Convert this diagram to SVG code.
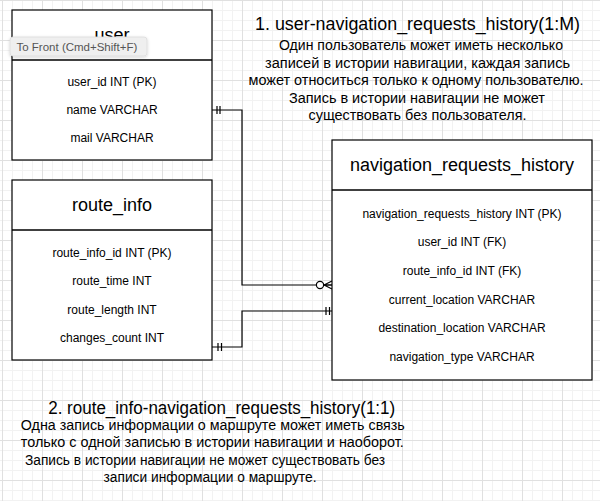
<svg xmlns="http://www.w3.org/2000/svg" width="600" height="501" viewBox="0 0 600 501">
<defs>
<pattern id="minor" patternUnits="userSpaceOnUse" x="2" y="0" width="10" height="10">
<path d="M0,0.5 H10 M0.5,0 V10" stroke="#f2f2f2" stroke-width="1" fill="none"/>
</pattern>
<pattern id="major" patternUnits="userSpaceOnUse" x="2" y="0" width="40" height="40">
<path d="M0,0.5 H40 M0.5,0 V40" stroke="#e0e0e0" stroke-width="1" fill="none"/>
</pattern>
<filter id="sh" x="-10%" y="-30%" width="120%" height="180%">
<feDropShadow dx="0" dy="1" stdDeviation="1.5" flood-color="#000" flood-opacity="0.18"/>
</filter>
</defs>
<style>
text{font-family:"Liberation Sans",Arial,Helvetica,sans-serif;fill:#000}
.ent{fill:#fff;stroke:#000;stroke-width:1.2}
.div{stroke:#000;stroke-width:1.5}
.title{font-size:18px;text-anchor:middle}
.row{font-size:12px;text-anchor:middle}
.conn{fill:none;stroke:#000;stroke-width:1.2}
.h{font-size:17.5px;text-anchor:middle}
.b{font-size:14px;text-anchor:middle}
</style>
<rect width="600" height="501" fill="#fff"/>
<rect width="600" height="501" fill="url(#minor)"/>
<rect width="600" height="501" fill="url(#major)"/>

<g id="connectors">
<path class="conn" d="M212,110 H242 V285 H332"/>
<path class="conn" d="M217,106 V114 M220,106 V114"/>
<circle cx="320" cy="285" r="3.6" fill="#fff" stroke="#000" stroke-width="1.2"/>
<path class="conn" d="M324,285 L332,281 M324,285 L332,289 M324,285 H332"/>
<path class="conn" d="M212,347 H242 V311 H332"/>
<path class="conn" d="M218,343 V351 M221.5,343 V351"/>
<path class="conn" d="M326,307 V315 M329.5,307 V315"/>
</g>

<g id="user">
<rect class="ent" x="12" y="10" width="200" height="150"/>
<line class="div" x1="12" y1="60" x2="212" y2="60"/>
<text class="title" x="112" y="41">user</text>
<text class="row" x="112" y="86">user_id INT (PK)</text>
<text class="row" x="112" y="114">name VARCHAR</text>
<text class="row" x="112" y="142">mail VARCHAR</text>
</g>

<g id="route_info">
<rect class="ent" x="12" y="180" width="200" height="180"/>
<line class="div" x1="12" y1="230" x2="212" y2="230"/>
<text class="title" x="112" y="211">route_info</text>
<text class="row" x="112" y="257">route_info_id INT (PK)</text>
<text class="row" x="112" y="285">route_time INT</text>
<text class="row" x="112" y="314">route_length INT</text>
<text class="row" x="112" y="342">changes_count INT</text>
</g>

<g id="navigation_requests_history">
<rect class="ent" x="332" y="140" width="260" height="240"/>
<line class="div" x1="332" y1="190" x2="592" y2="190" stroke-width="2"/>
<text class="title" x="462" y="171">navigation_requests_history</text>
<text class="row" x="462" y="218">navigation_requests_history INT (PK)</text>
<text class="row" x="462" y="246">user_id INT (FK)</text>
<text class="row" x="462" y="275">route_info_id INT (FK)</text>
<text class="row" x="462" y="304">current_location VARCHAR</text>
<text class="row" x="462" y="332">destination_location VARCHAR</text>
<text class="row" x="462" y="361">navigation_type VARCHAR</text>
</g>

<g id="note1">
<text class="h" x="417.5" y="30" textLength="325" lengthAdjust="spacingAndGlyphs">1. user-navigation_requests_history(1:M)</text>
<text class="b" x="421" y="50" textLength="284" lengthAdjust="spacingAndGlyphs">Один пользователь может иметь несколько</text>
<text class="b" x="417.5" y="68" textLength="305" lengthAdjust="spacingAndGlyphs">записей в истории навигации, каждая запись</text>
<text class="b" x="416" y="85" textLength="335" lengthAdjust="spacingAndGlyphs">может относиться только к одному пользователю.</text>
<text class="b" x="417" y="103" textLength="256" lengthAdjust="spacingAndGlyphs">Запись в истории навигации не может</text>
<text class="b" x="417.5" y="120" textLength="218" lengthAdjust="spacingAndGlyphs">существовать без пользователя.</text>
</g>

<g id="note2">
<text class="h" x="221.7" y="414" textLength="347" lengthAdjust="spacingAndGlyphs">2. route_info-navigation_requests_history(1:1)</text>
<text class="b" x="212.8" y="430" textLength="384" lengthAdjust="spacingAndGlyphs">Одна запись информации о маршруте может иметь связь</text>
<text class="b" x="212.3" y="447" textLength="383" lengthAdjust="spacingAndGlyphs">только с одной записью в истории навигации и наоборот.</text>
<text class="b" x="205" y="465" textLength="360" lengthAdjust="spacingAndGlyphs">Запись в истории навигации не может существовать без</text>
<text class="b" x="210" y="482" textLength="213" lengthAdjust="spacingAndGlyphs">записи информации о маршруте.</text>
</g>

<g id="tooltip">
<rect x="10" y="37" width="137" height="19" rx="3" fill="#efefef" stroke="#dcdcdc" stroke-width="0.8" filter="url(#sh)"/>
<text x="16.5" y="50.5" style="font-size:11.5px;fill:#555">To Front (Cmd+Shift+F)</text>
</g>
</svg>
